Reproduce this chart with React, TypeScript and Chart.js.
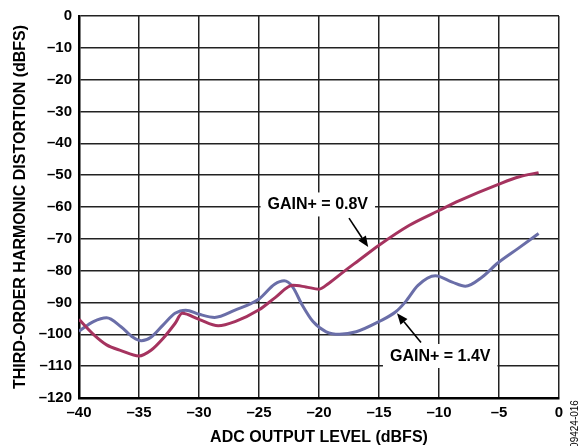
import React, { useEffect, useRef } from 'react';
import { Chart, registerables } from 'chart.js';

Chart.register(...registerables);

// ADC output level (dBFS) and third-order harmonic distortion (dBFS)
const gain08X = [-40, -38.8, -37.7, -36.5, -35, -34, -33, -32, -31.4, -30, -28.4, -27, -25, -23.6, -22.2, -21.1, -20, -19.2, -17.8, -16.7, -15, -12.5, -10, -8.3, -5, -3.3, -1.7];
const gain08Y = [-95.3, -100, -103.3, -105.1, -106.8, -105, -101.3, -96.6, -93.4, -95.3, -97.3, -96, -92.3, -88.3, -84.6, -85.1, -85.8, -84, -79.9, -76.8, -72, -65.8, -61.1, -58, -52.8, -50.5, -49.2];

const gain14X = [-40, -38.8, -37.7, -36.5, -35.5, -34.8, -34, -33, -32, -31.1, -30, -28.7, -27, -25, -23.7, -22.9, -22.2, -21.4, -20.5, -19.4, -18.3, -16.9, -15, -13.6, -12.8, -11.75, -10.3, -8.9, -7.8, -6.4, -5.1, -3.4, -1.7];
const gain14Y = [-99, -96, -94.8, -97.6, -100.9, -102, -100.9, -97.1, -93.4, -92.4, -93.7, -94.7, -92.4, -88.9, -84.3, -83.2, -85.1, -90.8, -96, -99.2, -100, -99.2, -96, -92.9, -89.8, -84.6, -81.6, -83.6, -84.9, -82, -77.6, -73, -68.3];

const xTicks = [-40, -35, -30, -25, -20, -15, -10, -5, 0];
const yTicks = [0, -10, -20, -30, -40, -50, -60, -70, -80, -90, -100, -110, -120];

const seriesLabels = ['GAIN+ = 0.8V', 'GAIN+ = 1.4V'];
const seriesColors = ['#a5335f', '#6a6ea8'];

// annotation anchors in data space: label centre, arrow start, arrow tip
const labelAt = [
  { x: -20.1, y: -59.2 },
  { x: -9.9, y: -106.8 },
];
const arrowFrom = [
  { x: -17.5, y: -63.5 },
  { x: -11.5, y: -102.6 },
];
const arrowTo = [
  { x: -15.9, y: -72.6 },
  { x: -13.5, y: -93.4 },
];

const FONT = '"Liberation Sans", Arial, Helvetica, sans-serif';

const fmt = (v: number) => (v < 0 ? '\u2013' + Math.abs(v) : String(v));

const annotationPlugin = {
  id: 'gainAnnotations',
  beforeDatasetsDraw(chart: any) {
    const { ctx, scales } = chart;
    ctx.save();
    ctx.font = `bold 16px ${FONT}`;
    ctx.textAlign = 'center';
    ctx.textBaseline = 'middle';
    labelAt.forEach((p, i) => {
      const cx = scales.x.getPixelForValue(p.x);
      const cy = scales.y.getPixelForValue(p.y);
      const w = ctx.measureText(seriesLabels[i]).width + 14;
      const h = 24;
      ctx.fillStyle = '#ffffff';
      ctx.fillRect(cx - w / 2, cy - h / 2, w, h);
      ctx.fillStyle = '#000000';
      ctx.fillText(seriesLabels[i], cx, cy + 0.5);
    });
    ctx.restore();
  },
  afterDatasetsDraw(chart: any) {
    const { ctx, scales } = chart;
    ctx.save();
    ctx.strokeStyle = '#000';
    ctx.fillStyle = '#000';
    ctx.lineWidth = 1.6;
    arrowFrom.forEach((a, i) => {
      const x1 = scales.x.getPixelForValue(a.x);
      const y1 = scales.y.getPixelForValue(a.y);
      const x2 = scales.x.getPixelForValue(arrowTo[i].x);
      const y2 = scales.y.getPixelForValue(arrowTo[i].y);
      const ang = Math.atan2(y2 - y1, x2 - x1);
      const hl = 11;
      const hw = 4.5;
      const bx = x2 - hl * Math.cos(ang);
      const by = y2 - hl * Math.sin(ang);
      ctx.beginPath();
      ctx.moveTo(x1, y1);
      ctx.lineTo(bx, by);
      ctx.stroke();
      ctx.beginPath();
      ctx.moveTo(x2, y2);
      ctx.lineTo(bx + hw * Math.sin(ang), by - hw * Math.cos(ang));
      ctx.lineTo(bx - hw * Math.sin(ang), by + hw * Math.cos(ang));
      ctx.closePath();
      ctx.fill();
    });
    ctx.restore();
  },
  afterDraw(chart: any) {
    const { ctx } = chart;
    ctx.save();
    ctx.font = `10px ${FONT}`;
    ctx.fillStyle = '#000';
    ctx.textAlign = 'center';
    ctx.textBaseline = 'middle';
    ctx.translate(575, 424);
    ctx.rotate(-Math.PI / 2);
    ctx.fillText('09424-016', 0, 0);
    ctx.restore();
  },
};

export default function App() {
  const ref = useRef<HTMLCanvasElement | null>(null);

  useEffect(() => {
    if (!ref.current) return;
    const chart = new Chart(ref.current, {
      type: 'line',
      data: {
        datasets: [
          {
            label: seriesLabels[0],
            data: gain08X.map((x, i) => ({ x, y: gain08Y[i] })),
            borderColor: seriesColors[0],
            borderWidth: 3,
            pointRadius: 0,
            cubicInterpolationMode: 'monotone',
            fill: false,
          },
          {
            label: seriesLabels[1],
            data: gain14X.map((x, i) => ({ x, y: gain14Y[i] })),
            borderColor: seriesColors[1],
            borderWidth: 3,
            pointRadius: 0,
            cubicInterpolationMode: 'monotone',
            fill: false,
          },
        ],
      },
      options: {
        animation: false,
        responsive: false,
        maintainAspectRatio: false,
        layout: { padding: { left: 0, top: 14, right: 24, bottom: 0 } },
        plugins: {
          legend: { display: false },
          tooltip: { enabled: false },
        },
        scales: {
          x: {
            type: 'linear',
            min: -40,
            max: 0,
            afterBuildTicks: (s: any) => {
              s.ticks = xTicks.map((v) => ({ value: v }));
            },
            afterFit: (s: any) => {
              s.height = 48;
            },
            ticks: {
              callback: (v: any) => fmt(Number(v)),
              font: { family: FONT, size: 15, weight: 'bold' },
              color: '#000',
              padding: 6,
              maxRotation: 0,
              autoSkip: false,
            },
            grid: { color: '#222', lineWidth: 1.5, drawTicks: false },
            border: { color: '#000', width: 2.5 },
            title: {
              display: true,
              text: 'ADC OUTPUT LEVEL (dBFS)',
              font: { family: FONT, size: 16, weight: 'bold', lineHeight: 1 },
              color: '#000',
              padding: { top: 0, bottom: 0 },
            },
          },
          y: {
            type: 'linear',
            min: -120,
            max: 0,
            afterBuildTicks: (s: any) => {
              s.ticks = yTicks.map((v) => ({ value: v }));
            },
            afterFit: (s: any) => {
              s.width = 79;
            },
            ticks: {
              callback: (v: any) => fmt(Number(v)),
              font: { family: FONT, size: 15, weight: 'bold' },
              color: '#000',
              padding: 7,
              autoSkip: false,
            },
            grid: { color: '#222', lineWidth: 1.5, drawTicks: false },
            border: { color: '#000', width: 2.5 },
            title: {
              display: true,
              text: 'THIRD-ORDER HARMONIC DISTORTION (dBFS)',
              font: { family: FONT, size: 16, weight: 'bold', lineHeight: 1 },
              color: '#000',
              padding: { top: 13, bottom: 0 },
            },
          },
        },
      },
      plugins: [annotationPlugin],
    } as any);
    return () => chart.destroy();
  }, []);

  return (
    <div style={{ position: 'fixed', left: 0, top: 0, width: 583, height: 446, background: '#fff' }}>
      <canvas ref={ref} width={583} height={446} style={{ display: 'block', width: 583, height: 446 }} />
    </div>
  );
}
